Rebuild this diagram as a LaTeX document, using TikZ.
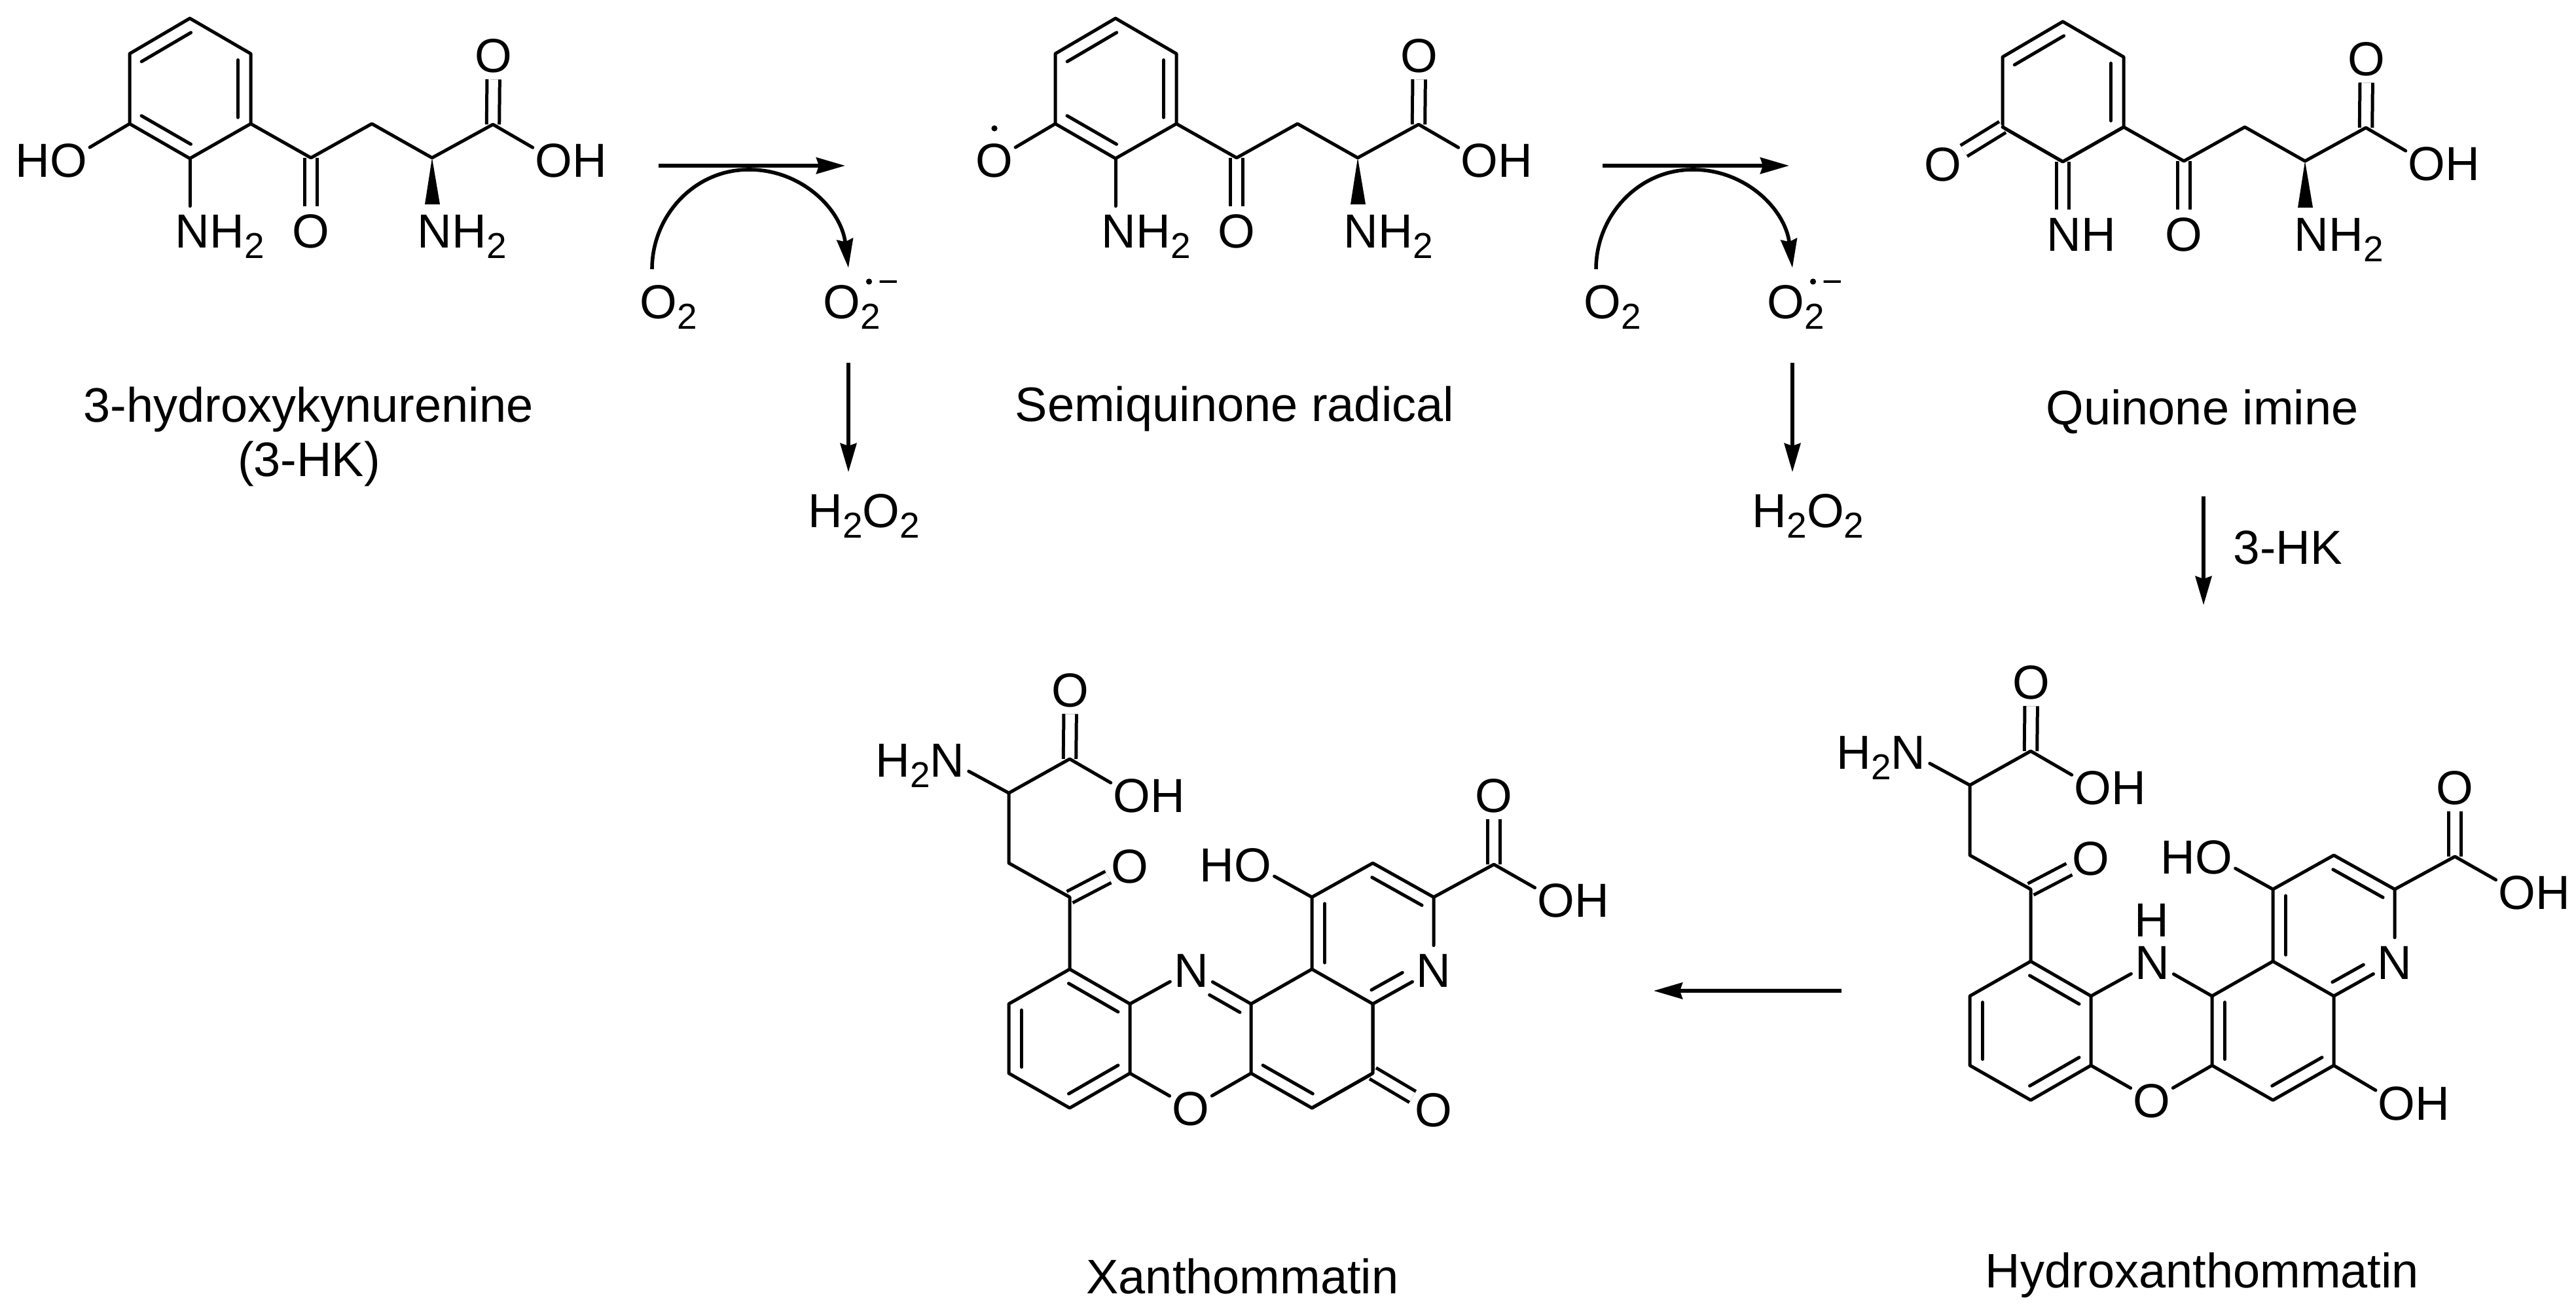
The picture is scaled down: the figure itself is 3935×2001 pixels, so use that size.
\documentclass[tikz,border=0pt]{standalone}
\usepackage{fontspec}
\setmainfont{Liberation Sans}
\usetikzlibrary{calc,arrows.meta}
\newcommand\chemfont{\fontsize{18.25pt}{22pt}\selectfont}
\newcommand\capfont{\fontsize{18.5pt}{22pt}\selectfont}
\newcommand\subn[1]{\raisebox{-4pt}{\fontsize{13.75pt}{14pt}\selectfont #1}}
\newcommand\atomC[1]{\raisebox{-.358em}[0pt][0pt]{\makebox[0pt][c]{#1}}}
\newcommand\atomR[2]{\setbox0\hbox{#1}\raisebox{-.358em}[0pt][0pt]{\makebox[0pt][l]{\hspace{-.5\wd0}#1#2}}}
\newcommand\atomL[2]{\setbox0\hbox{#2}\raisebox{-.358em}[0pt][0pt]{\makebox[0pt][r]{#1#2\hspace{-.5\wd0}}}}
\newcommand\innerbond[2]{\draw[bond] ($(#1)!0.09!(#2)!4.9pt!90:(#2)$) -- ($(#2)!0.09!(#1)!4.9pt!-90:(#1)$);}
\newcommand\innerpart[4]{\draw[bond] ($(#1)!#3!(#2)!4.9pt!90:(#2)$) -- ($(#2)!#4!(#1)!4.9pt!-90:(#1)$);}
\tikzset{
  bond/.style={line width=1.25pt,line cap=round,line join=round},
  dbl/.style={line width=1.25pt,double,double distance=3.6pt},
  atom/.style={circle,inner sep=0pt,minimum size=18.25pt,font=\chemfont},
  captext/.style={anchor=base,font=\capfont,inner sep=0pt},
  arr/.style={line width=1.4pt,-{Stealth[length=11pt,width=6.2pt,inset=1pt]}},
  rad/.style={circle,fill=black,inner sep=0pt,minimum size=2.3pt},
  chg/.style={inner sep=0pt,font=\fontsize{13.5pt}{14pt}\selectfont},
}
% common part of the three kynurenine-type molecules; #1 = x of the side-chain NH2
\newcommand\kynskeleton[1]{
  \coordinate (top) at (290,28);
  \coordinate (ur) at (383,82);
  \coordinate (lr) at (383,189);
  \coordinate (bot) at (290,242);
  \coordinate (ll) at (198,189);
  \coordinate (ul) at (198,82);
  \coordinate (co) at (475,241);
  \coordinate (ch) at (568,189);
  \coordinate (ca) at (660,241);
  \coordinate (cx) at (753,190);
  \coordinate (wa) at (649,312);
  \coordinate (wb) at (672,312);
  \node[atom] (oa) at (754,84) {\atomC{O}};
  \node[atom] (ob) at (846,244) {\atomR{O}{H}};
  \node[atom] (oc) at (475,352) {\atomC{O}};
  \node[atom] (nb) at (#1,352) {\atomR{N}{H\subn{2}}};
  \draw[dbl] (cx) -- (oa);
  \draw[dbl] (co) -- (oc);
  \fill (ca) -- (wa) -- (wb) -- cycle;
  \draw[bond] (top) -- (ur) -- (lr) -- (bot) -- (ll) -- (ul) -- (top);
  \draw[bond] (lr) -- (co) -- (ch) -- (ca) -- (cx) -- (ob);
  \innerbond{top}{ul}
  \innerbond{lr}{ur}
}
% common part of the two xanthommatin-type molecules
\newcommand\xanskeleton{
  \coordinate (a1) at (1634,1480);
  \coordinate (a2) at (1726,1533);
  \coordinate (a3) at (1726,1639);
  \coordinate (a4) at (1634,1692);
  \coordinate (a5) at (1541,1639);
  \coordinate (a6) at (1541,1533);
  \coordinate (b) at (1911,1533);
  \coordinate (c) at (1911,1639);
  \coordinate (d) at (2004,1480);
  \coordinate (e) at (2097,1533);
  \coordinate (f) at (2097,1639);
  \coordinate (g) at (2004,1692);
  \coordinate (h) at (2190,1370);
  \coordinate (i) at (2097,1318);
  \coordinate (j) at (2004,1370);
  \coordinate (k) at (1634,1370);
  \coordinate (l) at (1541,1318);
  \coordinate (m) at (1541,1211);
  \coordinate (n) at (1634,1159);
  \coordinate (q) at (2282,1320);
  \node[atom] (nc) at (1820,1481) {\atomC{N}};
  \node[atom] (nd) at (2190,1481) {\atomC{N}};
  \node[atom] (oe) at (1819,1692) {\atomC{O}};
  \node[atom] (of) at (1914,1320) {\atomL{H}{O}};
  \node[atom] (og) at (2282,1214) {\atomC{O}};
  \node[atom] (oh) at (2377,1374) {\atomR{O}{H}};
  \node[atom] (oi) at (1726,1322) {\atomC{O}};
  \node[atom] (oj) at (1635,1053) {\atomC{O}};
  \node[atom] (ok) at (1729,1214) {\atomR{O}{H}};
  \node[atom] (ne) at (1447,1160) {\atomL{H\subn{2}}{N}};
  \draw[dbl] (q) -- (og);
  \draw[dbl] (k) -- (oi);
  \draw[dbl] (n) -- (oj);
  \draw[bond] (a1) -- (a2) -- (a3) -- (a4) -- (a5) -- (a6) -- (a1);
  \draw[bond] (a2) -- (nc) -- (b) -- (c) -- (oe) -- (a3);
  \draw[bond] (b) -- (d) -- (e) -- (f) -- (g) -- (c);
  \draw[bond] (d) -- (j) -- (i) -- (h) -- (nd) -- (e);
  \draw[bond] (j) -- (of);
  \draw[bond] (h) -- (q) -- (oh);
  \draw[bond] (a1) -- (k) -- (l) -- (m) -- (n) -- (ok);
  \draw[bond] (m) -- (ne);
  \innerbond{a2}{a1}
  \innerbond{a6}{a5}
  \innerbond{a4}{a3}
  \innerbond{j}{d}
  \innerbond{h}{i}
  \innerpart{e}{nd}{0.08}{0.41}
}
% O2 -> superoxide -> H2O2 side reaction
\newcommand\oxygroup{
  \coordinate (hs) at (1006,253);
  \coordinate (he) at (1291,253);
  \coordinate (cs) at (996,411);
  \coordinate (cm) at (1144,259);
  \coordinate (ce) at (1296,409);
  \coordinate (ds) at (1296,554);
  \coordinate (de) at (1296,721);
  \node[atom] (ox) at (1006,460) {\atomR{O}{\subn{2}}};
  \node[atom] (sx) at (1286,460) {\atomR{O}{\subn{2}}};
  \node[rad] (sd) at (1327.5,430) {};
  \node[chg] (sm) at (1357,431) {\raisebox{-.33em}[0pt][0pt]{−}};
  \node[anchor=base,font=\chemfont,inner sep=0pt] (pr) at (1320,805) {H\subn{2}O\subn{2}};
  \draw[arr] (hs) -- (he);
  \draw[arr] (cs) .. controls (996,330) and (1060,259) .. (cm) .. controls (1225,259) and (1285,320) .. (ce);
  \draw[arr] (ds) -- (de);
}
\begin{document}
\begin{tikzpicture}[x=0.25pt,y=-0.25pt]
\useasboundingbox (0,0) rectangle (3935,2001);
\fill[white] (0,0) rectangle (3935,2001);

% 3-hydroxykynurenine
\begin{scope}[name prefix=ma-]
  \kynskeleton{664}
  \node[atom] (oh) at (105,244) {\atomL{H}{O}};
  \node[atom] (nh) at (294,352) {\atomR{N}{H\subn{2}}};
  \draw[bond] (ll) -- (oh);
  \draw[bond] (bot) -- (bot |- nh.north);
  \innerbond{ll}{bot}
  \node[captext] (t1) at (471,644) {3-hydroxykynurenine};
  \node[captext] (t2) at (472,727) {(3-HK)};
\end{scope}

% semiquinone radical
\begin{scope}[name prefix=mb-,shift={(1414,0)}]
  \kynskeleton{665}
  \node[atom] (oh) at (105,244) {\atomC{O}};
  \node[rad] (od) at (105,196) {};
  \node[atom] (nh) at (295,352) {\atomR{N}{H\subn{2}}};
  \draw[bond] (ll) -- (oh);
  \draw[bond] (bot) -- (bot |- nh.north);
  \innerbond{ll}{bot}
  \node[captext] (t1) at (472,643) {Semiquinone radical};
\end{scope}

% quinone imine
\begin{scope}[name prefix=mc-,shift={(2861,5)}]
  \kynskeleton{670}
  \node[atom] (oh) at (107,245) {\atomC{O}};
  \node[atom] (nh) at (292,352) {\atomR{N}{H}};
  \draw[dbl] (ll) -- (oh);
  \draw[dbl] (bot) -- (bot |- nh.north);
  \draw[bond] (lr) -- (bot) -- (ll);
  \node[captext] (t1) at (503,643) {Quinone imine};
\end{scope}

% side reactions
\begin{scope}[name prefix=ra-]
  \oxygroup
\end{scope}
\begin{scope}[name prefix=rb-,shift={(1442,0)}]
  \oxygroup
\end{scope}

% 3-HK arrow and final arrow
\coordinate (ks) at (3366,758);
\coordinate (ke) at (3366,924);
\draw[arr] (ks) -- (ke);
\node[anchor=base west,font=\chemfont,inner sep=0pt] (kl) at (3411,861) {3-HK};
\coordinate (xs) at (2813,1513);
\coordinate (xe) at (2526,1513);
\draw[arr] (xs) -- (xe);

% xanthommatin
\begin{scope}[name prefix=xa-]
  \xanskeleton
  \node[atom] (ol) at (2190,1694) {\atomC{O}};
  \draw[dbl] (f) -- (ol);
  \draw[bond] (e) -- (f) -- (g);
  \innerpart{b}{nc}{0.08}{0.41}
  \innerbond{c}{g}
  \node[captext] (t1) at (1898,1975) {Xanthommatin};
\end{scope}

% hydroxanthommatin
\begin{scope}[name prefix=xb-,shift={(1468,-12)}]
  \xanskeleton
  \node[atom] (ol) at (2193,1696) {\atomR{O}{H}};
  \node[atom,minimum size=0pt] (hn) at (1819,1416) {\atomC{H}};
  \draw[bond] (f) -- (ol);
  \innerbond{b}{c}
  \innerbond{g}{f}
  \node[captext] (t1) at (1896,1978) {Hydroxanthommatin};
\end{scope}
\end{tikzpicture}
\end{document}
